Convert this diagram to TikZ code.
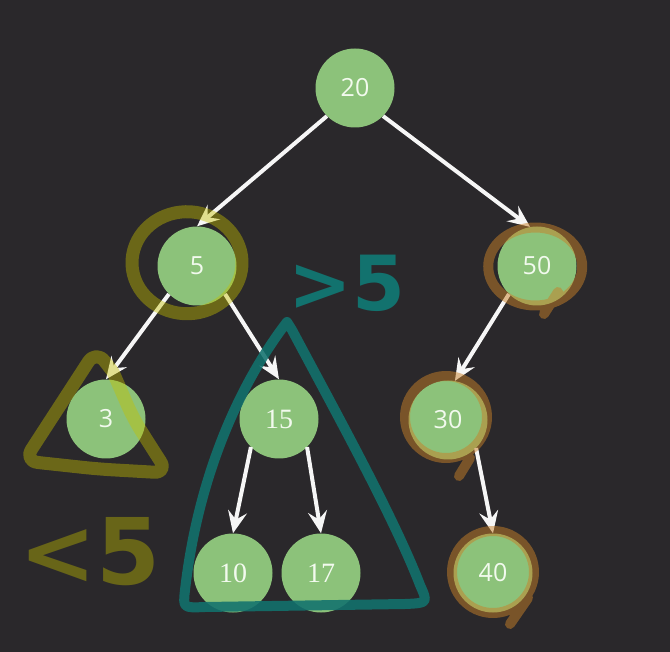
\documentclass[tikz,border=0pt]{standalone}
\usepackage{fontspec}
\setmainfont{Open Sans}
\newfontfamily\sansnum{Open Sans}
\newfontfamily\serifnum{Liberation Serif}
\newfontfamily\hand{DejaVu Sans}
\usetikzlibrary{arrows.meta}
\definecolor{bgc}{RGB}{42,40,43}
\definecolor{nodegreen}{RGB}{140,194,122}
\definecolor{nodetext}{RGB}{242,250,238}
\definecolor{arrowwhite}{RGB}{246,246,246}
\definecolor{oliveink}{RGB}{197,192,0}
\definecolor{olivetext}{RGB}{104,101,24}
\definecolor{browninks}{RGB}{200,128,40}
\definecolor{tealink}{RGB}{18,114,110}
\begin{document}
\begin{tikzpicture}[x=1pt,y=-1pt,
  tnode/.style={circle,fill=nodegreen,minimum size=79pt,inner sep=0pt,text=nodetext,font=\sansnum\fontsize{25}{25}\selectfont},
  snode/.style={tnode,font=\serifnum\fontsize{28}{28}\selectfont},
  arr/.style={draw=arrowwhite,line width=4pt,-{Stealth[length=22pt,width=19pt,inset=8pt]}},
  oliveline/.style={draw=oliveink,line width=13pt,line cap=round,line join=round},
  brownline/.style={draw=browninks,line width=10pt,line cap=round,line join=round},
  tealline/.style={draw=tealink,draw opacity=0.88,line width=10pt,line cap=round,line join=round},
  handtext/.style={inner sep=0pt,font=\hand\bfseries\fontsize{#1}{#1}\selectfont}]
\fill[bgc] (0,0) rectangle (670,652);
% nodes
\node[tnode] (n20) at (355,88) {20};
\node[tnode] (n5) at (197,266) {5};
\node[tnode] (n50) at (537,266) {50};
\node[tnode] (n3) at (106,419) {3};
\node[snode] (n15) at (279,419) {15};
\node[tnode] (n30) at (448,420) {30};
\node[snode] (n10) at (233,573) {10};
\node[snode] (n17) at (321,573) {17};
\node[tnode] (n40) at (493,573) {40};
% arrows
\draw[arr] (n20.225) -- (n5.north);
\draw[arr] (n20.-45) -- (n50.100);
\draw[arr] (n5.225) -- (n3.north);
\draw[arr] (n5.-45) -- (n15.north);
\draw[arr] (n15.225) -- (n10.north);
\draw[arr] (n15.-45) -- (n17.north);
\draw[arr] (n50.225) -- (n30.80);
\draw[arr] (n30.-45) -- (n40.north);
% olive highlights
\begin{scope}[transparency group, opacity=0.42]
\draw[oliveline] (188,261) ++(60:53) arc[start angle=60, end angle=440, x radius=55, y radius=51];
\end{scope}
\begin{scope}[transparency group, opacity=0.42]
\draw[oliveline,rounded corners=14pt] (113,372) -- (96,350) -- (24,461) -- (98,469) -- (168,473) -- (150,445) -- (133,418) -- (113,372);
\end{scope}
\node[handtext=92,text=olivetext] (lt) at (90,552) {<5};
% brown highlights
\begin{scope}[transparency group, opacity=0.5]
\draw[brownline] (536,262) ++(40:46) arc[start angle=40, end angle=420, x radius=47, y radius=39] (558,292) -- (544,314);
\end{scope}
\begin{scope}[transparency group, opacity=0.5]
\draw[brownline] (446,417) ++(-60:41) arc[start angle=-60, end angle=300, radius=41] (470,458) -- (459,476);
\end{scope}
\begin{scope}[transparency group, opacity=0.5]
\draw[brownline] (493,572) ++(-60:41) arc[start angle=-60, end angle=300, radius=41] (528,598) -- (510,624);
\end{scope}
% teal subtree outline
\draw[tealline] (287,322) .. controls (250,370) and (200,460) .. (185,590) .. controls (183,608) .. (205,607) -- (405,604) .. controls (428,603) .. (420,585) .. controls (395,520) and (340,420) .. (292,330) -- cycle;
\node[handtext=76,text=tealink] (gt) at (347,283) {>5};
\end{tikzpicture}
\end{document}
